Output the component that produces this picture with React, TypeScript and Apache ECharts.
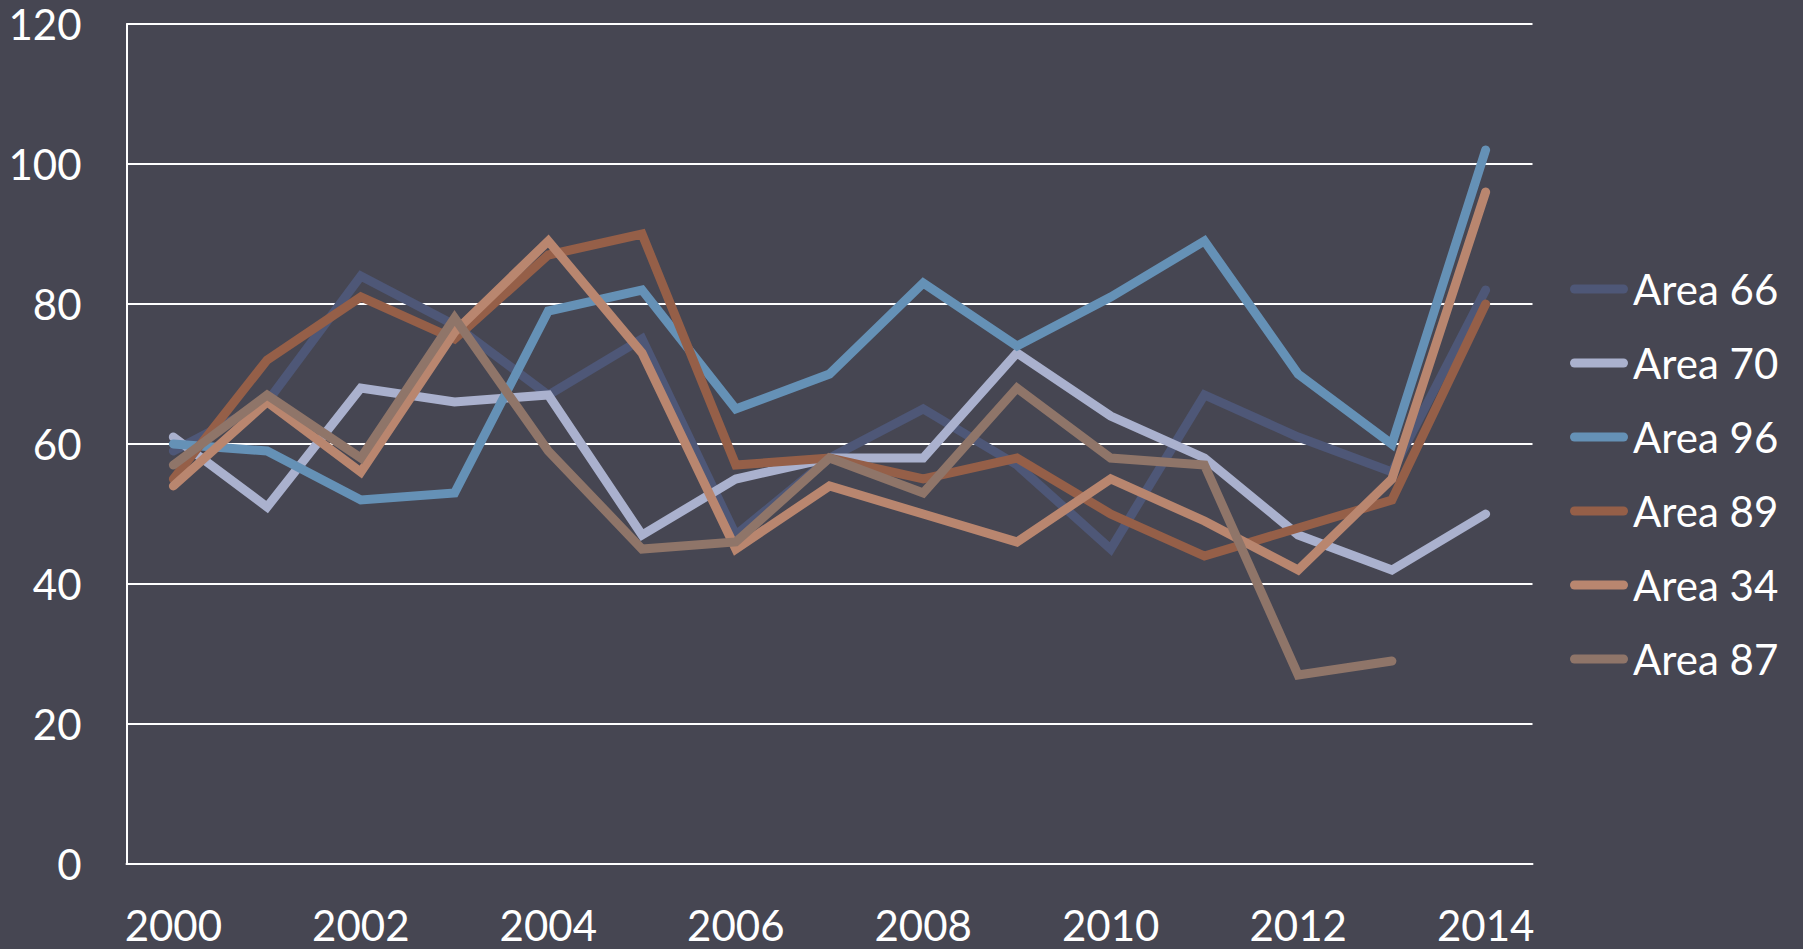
import React, { useEffect, useRef } from "react";
import * as echarts from "echarts";

const years = ["2000", "2001", "2002", "2003", "2004", "2005", "2006", "2007", "2008", "2009", "2010", "2011", "2012", "2013", "2014"];
const area66 = [59, 66, 84, 77, 67, 75, 47, 58, 65, 57, 45, 67, 61, 56, 82];
const area70 = [61, 51, 68, 66, 67, 47, 55, 58, 58, 73, 64, 58, 47, 42, 50];
const area96 = [60, 59, 52, 53, 79, 82, 65, 70, 83, 74, 81, 89, 70, 60, 102];
const area89 = [55, 72, 81, 75, 87, 90, 57, 58, 55, 58, 50, 44, 48, 52, 80];
const area34 = [54, 66, 56, 76, 89, 73, 45, 54, 50, 46, 55, 49, 42, 55, 96];
const area87 = [57, 67, 58, 78, 59, 45, 46, 58, 53, 68, 58, 57, 27, 29, null];

const seriesNames = ["Area 66", "Area 70", "Area 96", "Area 89", "Area 34", "Area 87"];
const seriesData = [area66, area70, area96, area89, area34, area87];
const colors = ["#4e5777", "#aab1ce", "#6591b6", "#955f48", "#b9866f", "#8f7569"];

const FONT = "Lato, 'Open Sans', sans-serif";

export default function App() {
  const ref = useRef<HTMLDivElement>(null);
  useEffect(() => {
    if (!ref.current) return;
    const chart = echarts.init(ref.current, null, { renderer: "svg" });
    const iconPath = "path://M4.5,0 H53.5 A4.5,4.5 0 0 1 53.5,9 H4.5 A4.5,4.5 0 0 1 4.5,0 Z";
    chart.setOption({
      animation: false,
      backgroundColor: "#464652",
      grid: { left: 126.5, right: 270.5, top: 24, bottom: 85, containLabel: false },
      legend: {
        orient: "vertical",
        left: 1565,
        top: 259,
        itemWidth: 58,
        itemHeight: 9,
        itemGap: 24,
        icon: iconPath,
        data: seriesNames,
        textStyle: { color: "#ffffff", fontFamily: FONT, fontSize: 42, lineHeight: 50 },
      },
      xAxis: {
        type: "category",
        data: years,
        boundaryGap: true,
        axisLine: { show: true, lineStyle: { color: "#ffffff", width: 2 } },
        axisTick: { show: false },
        axisLabel: { interval: 1, color: "#ffffff", fontFamily: FONT, fontSize: 42, margin: 40 },
      },
      yAxis: {
        type: "value",
        min: 0,
        max: 120,
        interval: 20,
        axisLine: { show: true, lineStyle: { color: "#ffffff", width: 2 } },
        axisTick: { show: false },
        splitLine: { show: true, lineStyle: { color: "#ffffff", width: 2 } },
        axisLabel: { color: "#ffffff", fontFamily: FONT, fontSize: 42, margin: 45 },
      },
      series: seriesNames.map((name, i) => ({
        name,
        type: "line",
        data: seriesData[i],
        symbol: "none",
        showSymbol: false,
        connectNulls: false,
        itemStyle: { color: colors[i] },
        lineStyle: { color: colors[i], width: 9, cap: "round", join: "miter" },
      })),
    });
    return () => chart.dispose();
  }, []);
  return (
    <div
      ref={ref}
      style={{ position: "fixed", left: 0, top: 0, width: 1803, height: 949 }}
    />
  );
}
